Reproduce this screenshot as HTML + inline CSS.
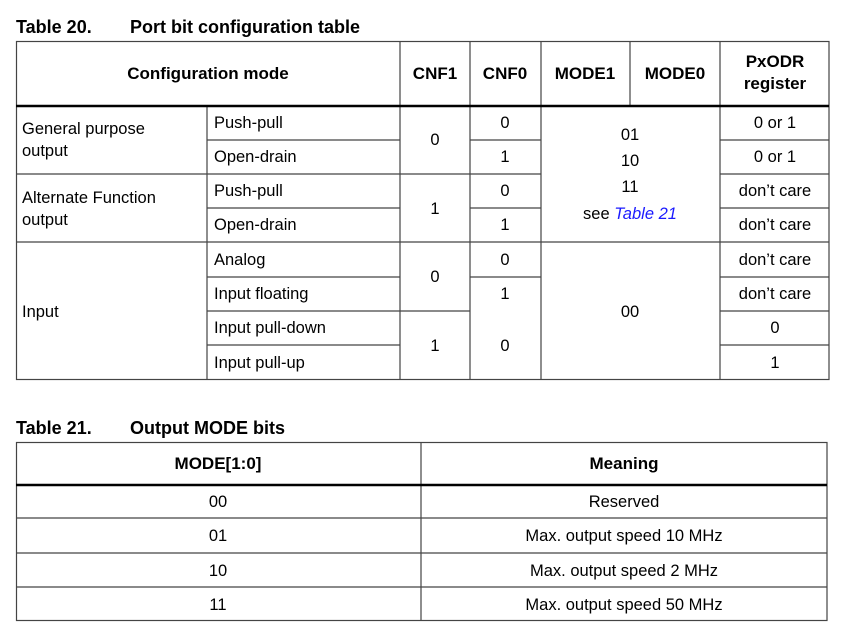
<!DOCTYPE html>
<html><head><style>
body{margin:0;background:#fff;}
svg{display:block;font-family:"Liberation Sans",Arial,sans-serif;}
</style></head><body>
<svg width="850" height="638" viewBox="0 0 850 638" xmlns="http://www.w3.org/2000/svg">
<g font-weight="bold" font-size="18" fill="#000">
<text x="16" y="33">Table 20.</text><text x="130" y="33">Port bit configuration table</text>
<text x="16" y="434">Table 21.</text><text x="130" y="434">Output MODE bits</text>
</g>
<g stroke="#444" stroke-width="1.2" fill="none">
<rect x="16.5" y="41.5" width="812.5" height="338"/>
<line x1="400" y1="41" x2="400" y2="380"/>
<line x1="470" y1="41" x2="470" y2="380"/>
<line x1="541" y1="41" x2="541" y2="380"/>
<line x1="630" y1="41" x2="630" y2="106"/>
<line x1="720" y1="41" x2="720" y2="380"/>
<line x1="207" y1="106" x2="207" y2="380"/>
<line x1="16" y1="174" x2="541" y2="174"/><line x1="720" y1="174" x2="829" y2="174"/>
<line x1="16" y1="242" x2="829" y2="242"/>
<line x1="207" y1="140" x2="400" y2="140"/><line x1="470" y1="140" x2="541" y2="140"/><line x1="720" y1="140" x2="829" y2="140"/>
<line x1="207" y1="208" x2="400" y2="208"/><line x1="470" y1="208" x2="541" y2="208"/><line x1="720" y1="208" x2="829" y2="208"/>
<line x1="207" y1="277" x2="400" y2="277"/><line x1="470" y1="277" x2="541" y2="277"/><line x1="720" y1="277" x2="829" y2="277"/>
<line x1="207" y1="311" x2="470" y2="311"/><line x1="720" y1="311" x2="829" y2="311"/>
<line x1="207" y1="345" x2="400" y2="345"/><line x1="720" y1="345" x2="829" y2="345"/>
<rect x="16.5" y="442.5" width="810.5" height="178"/>
<line x1="421" y1="442" x2="421" y2="621"/>
<line x1="16" y1="518" x2="827" y2="518"/>
<line x1="16" y1="553" x2="827" y2="553"/>
<line x1="16" y1="587" x2="827" y2="587"/>
</g>
<g stroke="#000" stroke-width="2.5">
<line x1="16" y1="106" x2="829" y2="106"/>
<line x1="16" y1="485" x2="827" y2="485"/>
</g>
<g font-size="16.5" fill="#000" text-anchor="middle">
<g font-weight="bold" font-size="17">
<text x="208" y="79">Configuration mode</text>
<text x="435" y="79">CNF1</text><text x="505" y="79">CNF0</text>
<text x="585" y="79">MODE1</text><text x="675" y="79">MODE0</text>
<text x="775" y="67">PxODR</text><text x="775" y="89">register</text>
<text x="218" y="469">MODE[1:0]</text><text x="624" y="469">Meaning</text>
</g>
<text x="435" y="145">0</text><text x="435" y="214">1</text><text x="435" y="282">0</text><text x="435" y="351">1</text>
<text x="505" y="128">0</text><text x="505" y="162">1</text><text x="505" y="196">0</text><text x="505" y="230">1</text>
<text x="505" y="265">0</text><text x="505" y="299">1</text><text x="505" y="351">0</text>
<text x="630" y="140">01</text><text x="630" y="166">10</text><text x="630" y="192">11</text>
<text x="630" y="219">see <tspan fill="#1a1aff" font-style="italic">Table 21</tspan></text>
<text x="630" y="317">00</text>
<text x="775" y="128">0 or 1</text><text x="775" y="162">0 or 1</text>
<text x="775" y="196">don’t care</text><text x="775" y="230">don’t care</text>
<text x="775" y="265">don’t care</text><text x="775" y="299">don’t care</text>
<text x="775" y="333">0</text><text x="775" y="368">1</text>
<text x="218" y="507">00</text><text x="218" y="541">01</text><text x="218" y="576">10</text><text x="218" y="610">11</text>
<text x="624" y="507">Reserved</text><text x="624" y="541">Max. output speed 10 MHz</text>
<text x="624" y="576">Max. output speed 2 MHz</text><text x="624" y="610">Max. output speed 50 MHz</text>
</g>
<g font-size="16.5" fill="#000">
<text x="22" y="134">General purpose</text><text x="22" y="156">output</text>
<text x="22" y="203">Alternate Function</text><text x="22" y="225">output</text>
<text x="22" y="317">Input</text>
<text x="214" y="128">Push-pull</text><text x="214" y="162">Open-drain</text>
<text x="214" y="196">Push-pull</text><text x="214" y="230">Open-drain</text>
<text x="214" y="265">Analog</text><text x="214" y="299">Input floating</text>
<text x="214" y="333">Input pull-down</text><text x="214" y="368">Input pull-up</text>
</g>
</svg>
</body></html>
